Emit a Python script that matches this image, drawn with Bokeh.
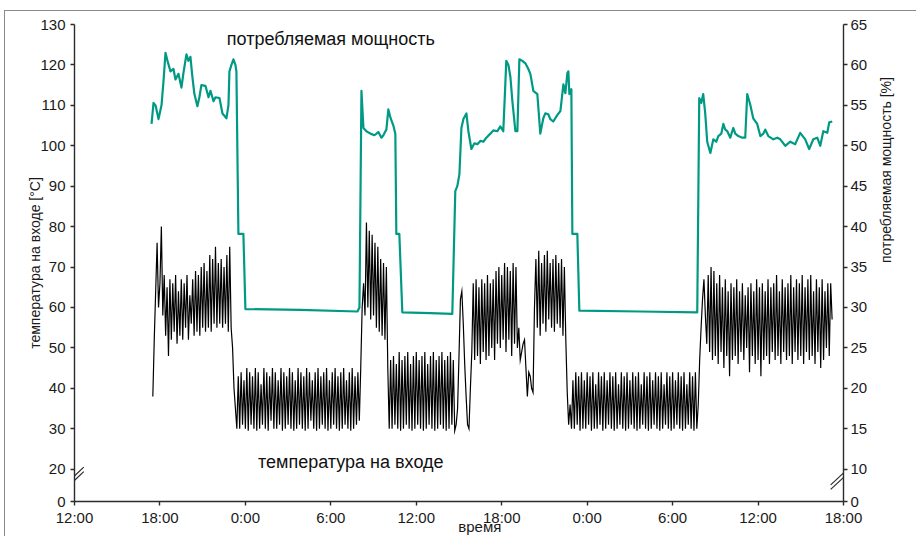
import math
from bokeh.plotting import figure
from bokeh.models import Range1d, LinearAxis, FixedTicker, Label, Arrow
from bokeh.embed import file_html
from bokeh.resources import INLINE

# ---------------- data ----------------
# time axis: hours counted from 12:00 of the first day
x_tick_hours = [0, 6, 12, 18, 24, 30, 36, 42, 48, 54]
x_tick_labels = ["12:00", "18:00", "0:00", "6:00", "12:00", "18:00", "0:00", "6:00", "12:00", "18:00"]

temp_ticks = [20, 30, 40, 50, 60, 70, 80, 90, 100, 110, 120, 130]
temp_axis_floor = 12          # position of the broken-axis "0"
power_ticks = [10, 15, 20, 25, 30, 35, 40, 45, 50, 55, 60, 65]
power_axis_floor = 6

SAMPLE_H = 0.1                # logging interval of the inlet temperature (6 min)

temp_start_rise = [38, 52, 64, 76, 60, 66, 80, 58]                                   # from 5.5 h
temp_day1 = [68, 53, 65, 48, 67, 52, 66, 54, 68, 51, 64, 53, 67, 52, 66, 55, 68, 52, 63, 56,
             67, 53, 69, 54, 68, 53, 70, 55, 71, 54, 69, 55, 73, 54, 72, 56, 75, 55, 71, 56,
             72, 55, 70, 56, 73, 54, 75, 55]                                           # from 6.3 h
temp_drop1 = [50, 40, 35, 30, 43]                                                      # from 11.1 h
temp_night1 = [30, 44, 31, 42, 30, 45, 29.5, 44, 31, 43, 30, 45, 29.5, 44, 30, 41, 31, 45, 30, 44,
               29.5, 43, 32, 45, 30, 44, 30, 42, 31, 45, 29.5, 44, 30, 43, 31, 45, 30, 44, 29.5, 42,
               30, 45, 31, 44, 30, 43, 29.5, 45, 30, 44, 32, 42, 30, 44, 29.5, 45, 30, 43, 31, 44,
               30, 45, 29.5, 42, 30, 44, 31, 45, 30, 43, 29.5, 44, 30, 45, 31, 42, 30, 44, 29.5, 45,
               30, 43, 31, 44]                                                         # from 11.6 h
temp_morning = [32, 45, 60, 66, 58, 81, 60, 79, 57, 78, 58, 76, 55, 75, 54, 72, 53, 71, 52, 70,
                45, 30]                                                                # from 20.0 h
temp_noon = [47, 30, 48, 31, 46, 30, 49, 29.5, 47, 30, 48, 31, 49, 30, 46, 29.5, 48, 30, 49, 31,
             47, 30, 48, 29.5, 49, 30, 46, 31, 48, 30, 49, 29.5, 47, 30, 48, 31, 49, 30, 47, 29.5,
             48, 30, 49, 31, 47, 29.5]                                                 # from 22.2 h
temp_rise3 = [31, 35, 48, 62, 64, 56, 46, 38, 31, 30, 40, 49]                         # from 26.8 h
temp_day2a = [66, 47, 67, 48, 65, 46, 67, 49, 66, 47, 68, 48, 66, 50, 67, 47, 69, 51, 70, 50,
              68, 52, 71, 49, 70, 52, 69, 48, 71, 51, 70, 50]                          # from 28.0 h
temp_dip = [55, 47, 49, 51, 52, 45, 38, 44, 43, 40, 39, 60]                           # from 31.2 h
temp_day2b = [72, 55, 74, 53, 71, 56, 73, 54, 74, 57, 71, 55, 72, 54, 73, 56, 71, 55, 72, 53]  # from 32.4 h
temp_drop2 = [70, 52, 39, 31, 36, 30]                                                 # from 34.4 h
temp_night2 = [42, 30, 44, 31, 43, 29.5, 44, 30, 42, 30, 44, 31, 43, 29.5, 44, 30, 41, 30, 44, 31,
               43, 29.5, 44, 30, 42, 31, 44, 30, 43, 29.5, 44, 30, 41, 31, 44, 30, 43, 29.5, 44, 30,
               42, 31, 44, 30, 43, 29.5, 44, 30, 41, 31, 44, 30, 43, 29.5, 44, 30, 42, 31, 44, 30,
               43, 29.5, 44, 30, 41, 31, 44, 30, 43, 29.5, 44, 30, 42, 31, 44, 30, 43, 29.5, 44, 30,
               41, 31, 44, 30, 43, 29.5, 44, 30]                                       # from 35.0 h
temp_rise4 = [36, 47, 55, 62, 67, 58, 51]                                              # from 43.8 h
temp_day3 = [68, 49, 70, 47, 69, 48, 66, 46, 68, 49, 65, 45, 67, 48, 64, 43, 66, 47, 65, 48,
             67, 46, 64, 49, 66, 47, 63, 50, 65, 44, 66, 48, 64, 46, 67, 47, 65, 43, 66, 47,
             64, 48, 67, 46, 65, 49, 66, 47, 68, 48, 64, 46, 67, 49, 65, 47, 66, 48, 68, 46,
             65, 49, 67, 47, 66, 48, 68, 46, 65, 49, 67, 47, 68, 48, 64, 46, 67, 49, 65, 45,
             67, 47, 64, 50, 66, 48]                                                   # from 44.5 h
temp_end = [66, 57]                                                                    # from 53.1 h

temp_segments = [(5.5, temp_start_rise), (6.3, temp_day1), (11.1, temp_drop1), (11.6, temp_night1),
                 (20.0, temp_morning), (22.2, temp_noon), (26.8, temp_rise3), (28.0, temp_day2a),
                 (31.2, temp_dip), (32.4, temp_day2b), (34.4, temp_drop2), (35.0, temp_night2),
                 (43.8, temp_rise4), (44.5, temp_day3), (53.1, temp_end)]

power_time_h = [5.41, 5.55, 5.69, 5.90, 6.11, 6.25, 6.39, 6.53, 6.74, 6.95,
                7.09, 7.30, 7.51, 7.65, 7.86, 8.00, 8.14, 8.28, 8.42, 8.63,
                8.77, 8.91, 9.20, 9.41, 9.55, 9.76, 9.90, 10.18, 10.39, 10.67,
                10.81, 10.88, 11.02, 11.16, 11.30, 11.37, 11.51, 11.86, 12.00, 15.86,
                19.87, 20.01, 20.15, 20.29, 20.50, 20.78, 21.06, 21.34, 21.55, 21.69,
                21.90, 22.04, 22.18, 22.39, 22.53, 22.60, 22.81, 23.02, 24.99, 26.53,
                26.74, 26.88, 27.03, 27.17, 27.31, 27.52, 27.66, 27.87, 28.08, 28.29,
                28.50, 28.71, 28.92, 29.20, 29.41, 29.69, 29.90, 30.11, 30.25, 30.32,
                30.47, 30.61, 30.75, 30.96, 31.10, 31.24, 31.45, 31.66, 31.87, 32.01,
                32.22, 32.50, 32.71, 32.92, 33.06, 33.27, 33.41, 33.62, 33.90, 34.12,
                34.33, 34.47, 34.61, 34.68, 34.75, 34.89, 34.96, 35.31, 35.45, 39.73,
                43.73, 43.87, 44.01, 44.15, 44.29, 44.43, 44.65, 44.86, 45.07, 45.21,
                45.42, 45.56, 45.70, 45.84, 46.05, 46.26, 46.40, 46.61, 46.89, 47.10,
                47.24, 47.45, 47.66, 47.94, 48.16, 48.37, 48.51, 48.72, 49.07, 49.35,
                49.56, 49.91, 50.26, 50.61, 50.96, 51.31, 51.59, 51.88, 52.16, 52.37,
                52.58, 52.86, 53.00, 53.21]
power_pct = [52.7, 55.3, 55.0, 53.3, 55.0, 58.0, 61.5, 60.5, 59.2, 59.5,
             58.2, 58.9, 57.2, 59.0, 61.3, 60.5, 61.0, 58.5, 56.4, 54.9,
             56.0, 57.5, 57.4, 56.0, 56.8, 55.5, 56.0, 55.9, 54.0, 53.4,
             55.0, 59.2, 60.0, 60.7, 60.0, 59.2, 39.1, 39.1, 29.8, 29.7,
             29.5, 30.0, 56.8, 52.2, 51.8, 51.5, 51.3, 51.7, 51.0, 51.3,
             52.0, 54.5, 53.5, 52.5, 51.5, 39.1, 39.1, 29.4, 29.3, 29.2,
             44.4, 45.0, 46.5, 52.2, 53.3, 54.0, 51.8, 49.6, 50.3, 50.2,
             50.6, 50.5, 51.0, 51.5, 51.9, 51.8, 52.4, 51.8, 57.5, 60.5,
             60.0, 58.5, 55.5, 51.8, 51.8, 60.7, 60.5, 60.2, 59.5, 58.9,
             56.8, 56.4, 51.5, 53.4, 54.0, 53.9, 53.3, 53.0, 53.8, 54.3,
             57.6, 56.5, 59.0, 59.2, 56.4, 57.0, 39.1, 39.1, 29.6, 29.5,
             29.4, 55.9, 55.3, 56.4, 54.0, 50.5, 49.1, 50.8, 50.5, 51.2,
             51.5, 52.7, 52.0, 51.8, 51.0, 52.2, 51.5, 51.2, 51.0, 51.0,
             56.4, 55.1, 53.4, 52.7, 51.2, 51.5, 52.0, 51.2, 50.8, 51.0,
             50.8, 50.0, 50.5, 50.2, 51.6, 50.8, 49.6, 50.8, 51.0, 50.0,
             51.8, 51.6, 52.9, 53.0]

# ---------------- build series ----------------
temp_time_h, temp_c = [], []
for start, vals in temp_segments:
    for k, v in enumerate(vals):
        temp_time_h.append(round(start + SAMPLE_H * k, 3))
        temp_c.append(v)

TEAL = "#009A84"
AXIS = "#2b2b2b"
FONT = "Liberation Sans"

p = figure(width=912, height=526, output_backend="svg", toolbar_location=None,
           x_range=Range1d(0, 54), y_range=Range1d(temp_axis_floor, 130),
           min_border_left=69, min_border_right=74, min_border_top=13, min_border_bottom=35,
           background_fill_color="white", border_fill_color="white")
p.styles = {"margin-left": "4px", "margin-top": "10px",
            "border-top": "1px solid #8a8a8a", "border-left": "1px solid #8a8a8a"}
p.outline_line_color = None
p.xgrid.visible = False
p.ygrid.visible = False
p.extra_y_ranges = {"pct": Range1d(power_axis_floor, 65)}

right_axis = LinearAxis(y_range_name="pct")
p.add_layout(right_axis, "right")

for ax in [p.xaxis[0], p.yaxis[0], right_axis]:
    ax.axis_line_color = AXIS
    ax.axis_line_width = 1.4
    ax.major_tick_line_color = AXIS
    ax.major_tick_line_width = 1.4
    ax.major_tick_in = 0
    ax.major_tick_out = 4
    ax.minor_tick_in = 0
    ax.minor_tick_out = 0
    ax.major_label_text_font = FONT
    ax.major_label_text_font_size = "15px"
    ax.major_label_text_color = "#1a1a1a"
    ax.major_label_standoff = 5
    ax.axis_label_text_font = FONT
    ax.axis_label_text_font_style = "normal"
    ax.axis_label_text_color = "#1a1a1a"

p.xaxis[0].ticker = FixedTicker(ticks=x_tick_hours)
p.xaxis[0].major_label_overrides = dict(zip(x_tick_hours, x_tick_labels))
p.xaxis[0].major_label_standoff = 3
# leading no-break spaces move the (centred) title a little to the right, as in the original
p.xaxis[0].axis_label = "\u00a0" * 10 + "время"
p.xaxis[0].axis_label_text_font_size = "15px"
p.xaxis[0].axis_label_standoff = -11

p.yaxis[0].ticker = FixedTicker(ticks=[temp_axis_floor] + temp_ticks)
p.yaxis[0].major_label_overrides = {temp_axis_floor: "0"}
p.yaxis[0].axis_label = "температура на входе [°C]"
p.yaxis[0].axis_label_text_font_size = "14px"
p.yaxis[0].axis_label_standoff = -6

right_axis.ticker = FixedTicker(ticks=[power_axis_floor] + power_ticks)
right_axis.major_label_overrides = {power_axis_floor: "0"}
right_axis.major_label_standoff = 3
right_axis.axis_label = "потребляемая мощность [%]"
right_axis.axis_label_text_font_size = "14px"
right_axis.axis_label_standoff = 16
try:
    right_axis.axis_label_orientation = math.pi / 2
except Exception:
    pass

p.line(power_time_h, power_pct, y_range_name="pct", line_color=TEAL, line_width=2.2,
       line_join="round")
p.line(temp_time_h, temp_c, line_color="black", line_width=1.2, line_join="miter")

# axis break marks
for (x0, y0, x1, y1) in [(-0.6, 16.3, 0.65, 20.5), (-0.6, 15.2, 0.65, 19.4),
                         (53.1, 16.1, 54.35, 20.2), (53.1, 15.0, 54.35, 19.1)]:
    p.add_layout(Arrow(end=None, x_start=x0, y_start=y0, x_end=x1, y_end=y1,
                       line_color=AXIS, line_width=1.2))

# in-plot texts
p.add_layout(Label(x=18.0, y=126.5, text="потребляемая мощность", text_font=FONT,
                   text_font_size="18px", text_align="center", text_baseline="middle",
                   text_color="#111111"))
p.add_layout(Label(x=19.4, y=21.7, text="температура на входе", text_font=FONT,
                   text_font_size="18px", text_align="center", text_baseline="middle",
                   text_color="#111111"))

open("out.html", "w").write(file_html(p, INLINE))
